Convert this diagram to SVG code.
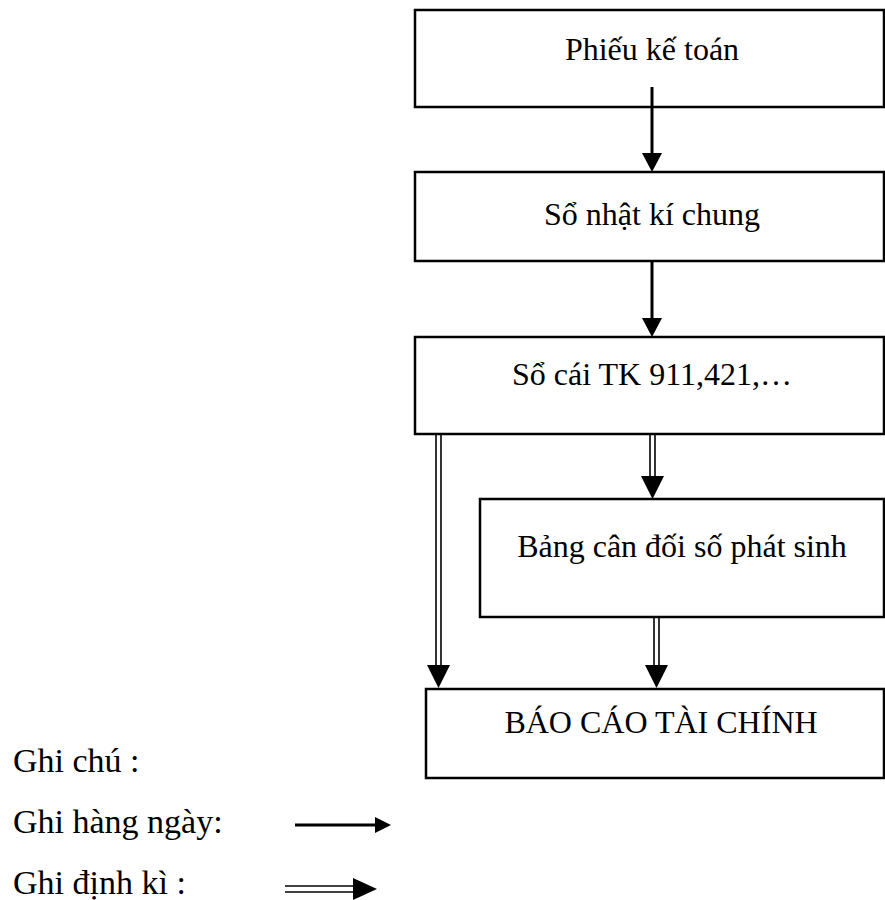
<svg xmlns="http://www.w3.org/2000/svg" width="885" height="900" viewBox="0 0 885 900">
<style>
.box{fill:#fff;stroke:#000;stroke-width:2.5}
.t{font-family:"Liberation Serif","Times New Roman",serif;font-size:32px;fill:#000}
.l{font-family:"Liberation Serif","Times New Roman",serif;font-size:34px;fill:#000}
.c{text-anchor:middle}
.s{stroke:#000;stroke-width:3;fill:none}
.d{stroke:#000;stroke-width:1.6;fill:none}
.h{fill:#000}
</style>
<rect width="885" height="900" fill="#fff"/>
<g id="n1"><rect class="box" x="415" y="10" width="469" height="97"/><text class="t c" x="652" y="60">Phiếu kế toán</text></g>
<g id="n2"><rect class="box" x="415" y="172" width="469" height="89"/><text class="t c" x="652" y="225">Sổ nhật kí chung</text></g>
<g id="n3"><rect class="box" x="415" y="337" width="469" height="97"/><text class="t c" x="652" y="385">Sổ cái TK 911,421,…</text></g>
<g id="n4"><rect class="box" x="480" y="499" width="404" height="118"/><text class="t c" x="682" y="557">Bảng cân đối số phát sinh</text></g>
<g id="n5"><rect class="box" x="426" y="689" width="458" height="89"/><text class="t c" x="661" y="733">BÁO CÁO TÀI CHÍNH</text></g>
<g id="connectors">
<line class="s" x1="652" y1="87" x2="652" y2="155"/><polygon class="h" points="642,153 662,153 652,172"/>
<line class="s" x1="652" y1="261" x2="652" y2="320"/><polygon class="h" points="642,318 662,318 652,337"/>
<line class="d" x1="436" y1="434" x2="436" y2="668"/><line class="d" x1="441" y1="434" x2="441" y2="668"/><polygon class="h" points="427,665 450,665 438.5,688"/>
<line class="d" x1="650" y1="434" x2="650" y2="478"/><line class="d" x1="655" y1="434" x2="655" y2="478"/><polygon class="h" points="641,476 664,476 652.5,499"/>
<line class="d" x1="654" y1="617" x2="654" y2="668"/><line class="d" x1="659" y1="617" x2="659" y2="668"/><polygon class="h" points="645,665 668,665 656.5,688"/>
</g>
<g id="legend">
<text class="l" x="13" y="772">Ghi chú :</text>
<text class="l" x="13" y="833">Ghi hàng ngày:</text>
<text class="l" x="13" y="894">Ghi định kì :</text>
<line class="s" x1="295" y1="825" x2="378" y2="825"/><polygon class="h" points="375,817 375,833 391,825"/>
<line class="d" x1="285" y1="886" x2="356" y2="886"/><line class="d" x1="285" y1="892" x2="356" y2="892"/><polygon class="h" points="353,878 353,900 377,889"/>
</g>
</svg>
